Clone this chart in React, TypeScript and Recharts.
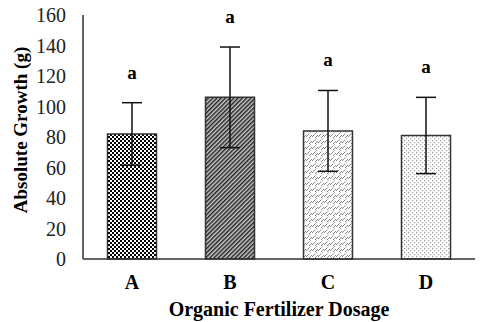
import React from 'react';
import { BarChart, Bar, XAxis, YAxis, ErrorBar, LabelList, Cell } from 'recharts';

const categories = ['A', 'B', 'C', 'D'];
const means = [82, 106, 84, 81];
const errors = [20.5, 33, 26.5, 25];
const letters = ['a', 'a', 'a', 'a'];
const yTicks = [0, 20, 40, 60, 80, 100, 120, 140, 160];
const patternIds = ['patA', 'patB', 'patC', 'patD'];

const data = categories.map((c, i) => ({ name: c, value: means[i], err: errors[i], letter: letters[i], idx: i }));

const FONT = '"Liberation Serif", "Times New Roman", serif';

const LetterLabel = (props: any) => {
  const { x, y, width, height, value, index } = props;
  const v = means[index];
  const pxPerUnit = height / v;
  const errTop = y - errors[index] * pxPerUnit;
  return (
    <text x={x + width / 2} y={errTop - 24} textAnchor="middle" fontFamily={FONT} fontWeight="bold" fontSize={19} fill="#000">
      {value}
    </text>
  );
};

const YLabel = (props: any) => {
  const vb = props.viewBox || {};
  const cx = 27;
  const cy = (vb.y ?? 15) + (vb.height ?? 244) / 2 - 7;
  return (
    <text x={cx} y={cy} transform={`rotate(-90, ${cx}, ${cy})`} textAnchor="middle" fontFamily={FONT} fontWeight="bold" fontSize={19} fill="#000">
      Absolute Growth (g)
    </text>
  );
};

export default function App() {
  return (
    <div style={{ position: 'absolute', left: 0, top: 0, background: '#fff' }}>
      <BarChart width={480} height={322} data={data} margin={{ top: 15, right: 5, bottom: 0, left: 0 }} barCategoryGap="25%">
        <defs>
          <pattern id="patA" width="4" height="4" patternUnits="userSpaceOnUse">
            <rect width="4" height="4" fill="#fff" />
            <rect x="0" y="0" width="2" height="2" fill="#000" />
            <rect x="2" y="2" width="2" height="2" fill="#000" />
          </pattern>
          <pattern id="patB" width="3" height="3" patternUnits="userSpaceOnUse" patternTransform="rotate(45)">
            <rect width="3" height="3" fill="#ccc" />
            <rect x="0" y="0" width="1.5" height="3" fill="#222" />
          </pattern>
          <pattern id="patC" width="6" height="6" patternUnits="userSpaceOnUse">
            <rect width="6" height="6" fill="#fff" />
            <path d="M0,5 L3,2" stroke="#888" strokeWidth="1" />
            <path d="M3,6 L6,3" stroke="#888" strokeWidth="1" />
            <path d="M3,2 L5,0" stroke="#aaa" strokeWidth="0.7" />
          </pattern>
          <pattern id="patD" width="4" height="4" patternUnits="userSpaceOnUse">
            <rect width="4" height="4" fill="#fff" />
            <rect x="0" y="0" width="1.2" height="1.2" fill="#999" />
            <rect x="2" y="2" width="1.2" height="1.2" fill="#aaa" />
          </pattern>
        </defs>
        <XAxis
          dataKey="name"
          height={63}
          axisLine={{ stroke: '#333', strokeWidth: 1.5 }}
          tickLine={false}
          tickSize={6}
          tickMargin={10}
          tick={{ fontFamily: FONT, fontWeight: 'bold', fontSize: 20, fill: '#000' }}
          label={{ value: 'Organic Fertilizer Dosage', position: 'insideBottom', offset: 6, style: { fontFamily: FONT, fontWeight: 'bold', fontSize: 20, fill: '#000' } }}
        />
        <YAxis
          width={83}
          domain={[0, 160]}
          ticks={yTicks}
          interval={0}
          axisLine={{ stroke: '#333', strokeWidth: 1.5 }}
          tickLine={false}
          tickSize={6}
          tickMargin={11}
          tick={{ fontFamily: FONT, fontSize: 20, fill: '#222' }}
          label={<YLabel />}
        />
        <Bar dataKey="value" isAnimationActive={false} stroke="#333" strokeWidth={1.5}>
          {data.map((d, i) => (
            <Cell key={d.name} fill={`url(#${patternIds[i]})`} />
          ))}
          <ErrorBar dataKey="err" width={10} stroke="#111" strokeWidth={1.5} direction="y" />
          <LabelList dataKey="letter" content={<LetterLabel />} />
        </Bar>
      </BarChart>
    </div>
  );
}
